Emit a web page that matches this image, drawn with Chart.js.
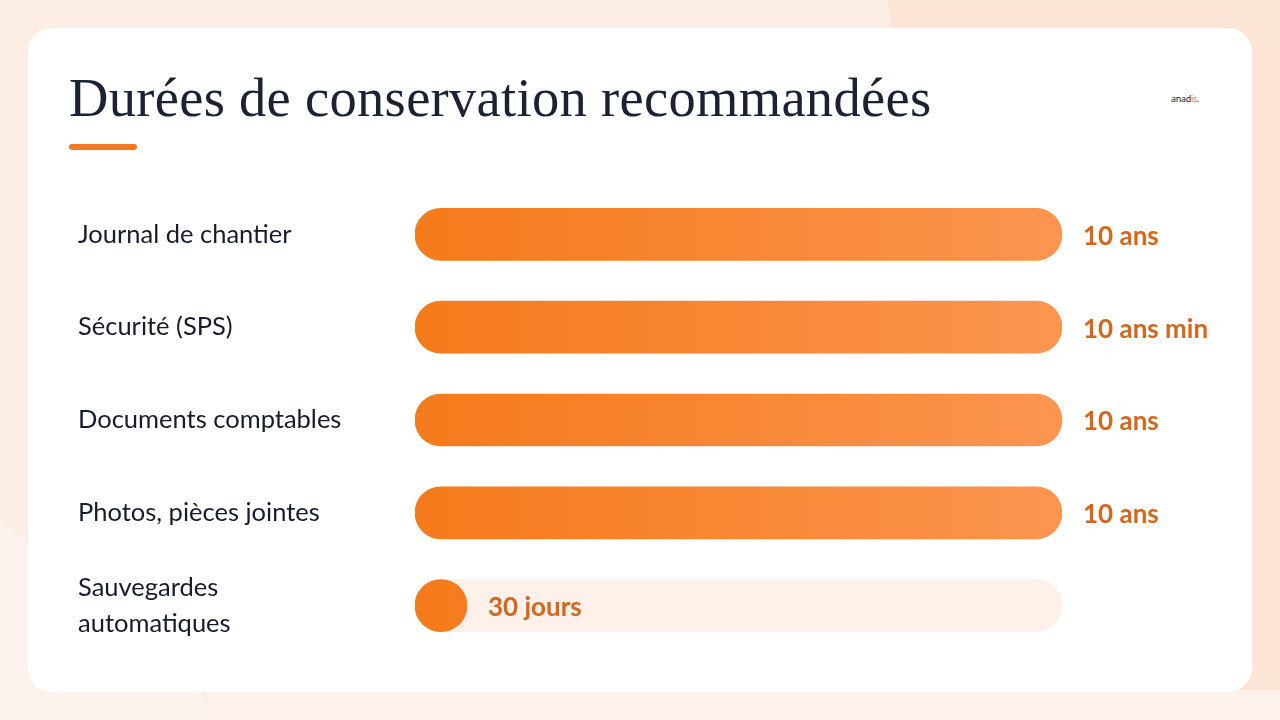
<!DOCTYPE html>
<html lang="fr">
<head>
<meta charset="utf-8">
<script src="https://cdn.jsdelivr.net/npm/chart.js@4"></script>
<style>
  html, body { margin: 0; padding: 0; }
  body {
    width: 1280px; height: 720px; overflow: hidden; position: relative;
    background: #fdeee5;
  }
  .shape-tr {
    position: absolute; left: 0; top: 0; width: 1280px; height: 720px;
    background: #fce5d7;
    clip-path: polygon(888px 0, 1280px 0, 1280px 720px, 960px 720px);
  }
  .shape-bl {
    position: absolute; left: 0; top: 0; width: 1280px; height: 720px;
    background: #fdf3ee;
    clip-path: polygon(0 520px, 200px 690px, 215px 720px, 0 720px);
  }
  .shape-b {
    position: absolute; left: 0; top: 0; width: 1280px; height: 720px;
    background: #fdf2ec;
    clip-path: polygon(205px 690px, 1280px 690px, 1280px 720px, 215px 720px);
  }
  .card {
    position: absolute; left: 28px; top: 28px; width: 1224px; height: 664px;
    background: #ffffff; border-radius: 24px;
  }
  h1 {
    position: absolute; left: 69px; top: 66px; margin: 0;
    font-family: "Liberation Serif", serif; font-weight: normal;
    font-size: 54.5px; color: #1b2333; letter-spacing: 0.3px;
  }
  .rule {
    position: absolute; left: 69px; top: 144px; width: 68px; height: 6px;
    background: #f47920; border-radius: 3px;
  }
  .logo {
    position: absolute; left: 1171px; top: 92px;
    font-family: "Noto Sans", sans-serif; font-size: 9px; color: #222;
    letter-spacing: -0.3px;
  }
  .logo span { color: #f47920; }
  #wrap { position: absolute; left: 78px; top: 188px; width: 1162px; height: 464px; }
</style>
</head>
<body>
<div class="shape-tr"></div>
<div class="shape-bl"></div>
<div class="shape-b"></div>
<div class="card"></div>
<h1>Durées de conservation recommandées</h1>
<div class="rule"></div>
<div class="logo">anad<span>is</span>.</div>
<div id="wrap"><canvas id="myChart"></canvas></div>
<script>
// durées en années
var categories = ['Journal de chantier', 'Sécurité (SPS)', 'Documents comptables', 'Photos, pièces jointes', ['Sauvegardes', 'automatiques']];
var durations = [10, 10, 10, 10, 30 / 365];
var valueLabels = ['10 ans', '10 ans min', '10 ans', '10 ans', '30 jours'];
var maxDuration = 10;
var trackValues = [10, 10, 10, 10, 10];

var ctx = document.getElementById('myChart');

function barGradient(context) {
  var chart = context.chart;
  var area = chart.chartArea;
  if (!area) return '#f67c1e';
  var g = chart.ctx.createLinearGradient(area.left, 0, area.right, 0);
  g.addColorStop(0, '#f57a1a');
  g.addColorStop(1, '#fb9550');
  return g;
}

var valueLabelPlugin = {
  id: 'valueLabels',
  afterDatasetsDraw: function (chart) {
    var meta = chart.getDatasetMeta(0);
    var c = chart.ctx;
    c.save();
    c.font = 'bold 26px Lato, "Noto Sans", sans-serif';
    c.fillStyle = '#d4671c';
    c.textBaseline = 'middle';
    c.textAlign = 'left';
    meta.data.forEach(function (bar, i) {
      c.fillText(valueLabels[i], bar.x + 21, bar.y + 2);
    });
    c.restore();
  }
};

var myChart = new Chart(ctx, {
  type: 'bar',
  data: {
    labels: categories,
    datasets: [{
      label: 'Durée',
      data: durations,
      backgroundColor: barGradient,
      borderRadius: 26,
      borderSkipped: false,
      barThickness: 52,
      minBarLength: 52,
      grouped: false
    }, {
      label: 'Piste',
      data: trackValues,
      backgroundColor: ['rgba(0,0,0,0)', 'rgba(0,0,0,0)', 'rgba(0,0,0,0)', 'rgba(0,0,0,0)', '#fef1ea'],
      borderRadius: 26,
      borderSkipped: false,
      barThickness: 52,
      grouped: false
    }]
  },
  options: {
    indexAxis: 'y',
    maintainAspectRatio: false,
    responsive: true,
    animation: false,
    layout: { padding: { left: 0, right: 178, top: 0, bottom: 0 } },
    plugins: {
      legend: { display: false },
      tooltip: { enabled: false }
    },
    scales: {
      x: {
        display: false,
        min: 0,
        max: maxDuration
      },
      y: {
        grid: { display: false },
        border: { display: false },
        afterFit: function (scale) {
          scale.width = 337;
          scale.paddingTop = 0;
          scale.paddingBottom = 0;
        },
        ticks: {
          crossAlign: 'far',
          padding: 0,
          color: '#161c2a',
          font: { family: 'Lato, "Noto Sans", sans-serif', size: 25.5, lineHeight: 1.4 }
        }
      }
    }
  },
  plugins: [valueLabelPlugin]
});
</script>
</body>
</html>
